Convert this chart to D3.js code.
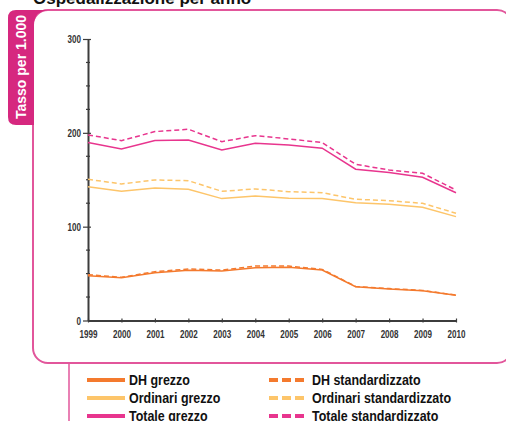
<!DOCTYPE html>
<html>
<head>
<meta charset="utf-8">
<script src="https://cdn.jsdelivr.net/npm/d3@7"></script>
<style>
  html, body { margin: 0; padding: 0; background: #fff; }
  svg { display: block; }
  .narrow { font-family: "Liberation Sans", Arial, sans-serif; font-weight: bold; }
</style>
</head>
<body>
<svg id="chart" width="506" height="421"></svg>
<script>
// Years and rates per 1,000 inhabitants
const years = [1999, 2000, 2001, 2002, 2003, 2004, 2005, 2006, 2007, 2008, 2009, 2010];
const dhGrezzo        = [47.8, 45.6, 51.0, 53.5, 52.8, 56.3, 56.7, 53.8, 36.0, 33.6, 31.8, 26.9];
const dhStd           = [48.8, 46.0, 52.0, 54.9, 53.7, 58.0, 58.0, 54.5, 36.3, 34.0, 32.1, 27.0];
const ordGrezzo       = [142.6, 137.7, 141.3, 139.9, 129.9, 132.7, 130.3, 129.9, 125.6, 123.9, 120.7, 110.7];
const ordStd          = [150.5, 145.5, 149.8, 149.0, 137.7, 140.2, 137.3, 136.2, 129.2, 127.7, 124.9, 114.3];
const totGrezzo       = [189.6, 182.8, 191.7, 192.4, 181.8, 188.9, 187.0, 183.6, 161.2, 157.6, 152.7, 136.2];
const totStd          = [197.8, 191.7, 201.3, 203.8, 190.6, 197.0, 193.5, 189.6, 166.5, 160.4, 156.9, 139.0];
const yMajorTicks = [0, 100, 200, 300];
const yMinorTicks = [25, 50, 75, 125, 150, 175, 225, 250, 275];

const series = [
  { name: "DH grezzo",              values: dhGrezzo,  color: "#f47a2e", dashed: false },
  { name: "Ordinari grezzo",        values: ordGrezzo, color: "#fdc56a", dashed: false },
  { name: "Totale grezzo",          values: totGrezzo, color: "#e8358e", dashed: false },
  { name: "DH standardizzato",      values: dhStd,     color: "#f47a2e", dashed: true },
  { name: "Ordinari standardizzato",values: ordStd,    color: "#fdc56a", dashed: true },
  { name: "Totale standardizzato",  values: totStd,    color: "#e8358e", dashed: true }
];

const svg = d3.select("#chart");
const framePink = "#e2569b";
const tabPink = "#d6287f";

// Squeeze a text horizontally to imitate a condensed face
function condense(sel, factor) {
  sel.each(function () {
    const w = this.getComputedTextLength();
    d3.select(this).attr("textLength", w * factor).attr("lengthAdjust", "spacingAndGlyphs");
  });
}

// Title (partly above the top edge)
svg.append("text")
  .attr("x", 33).attr("y", 4)
  .attr("font-family", "Liberation Sans, Arial, sans-serif")
  .attr("font-weight", "bold").attr("font-size", 17)
  .attr("fill", "#111")
  .text("Ospedalizzazione per anno");

// Rounded frame around the plot
svg.append("rect")
  .attr("x", 33).attr("y", 10)
  .attr("width", 479).attr("height", 353)
  .attr("rx", 15).attr("ry", 15)
  .attr("fill", "none").attr("stroke", framePink).attr("stroke-width", 2);

// Side tab holding the unit label
const tabPath = d3.path();
tabPath.moveTo(33, 10);
tabPath.lineTo(16, 10);
tabPath.quadraticCurveTo(8, 10, 8, 18);
tabPath.lineTo(8, 117);
tabPath.quadraticCurveTo(8, 125, 16, 125);
tabPath.lineTo(34, 125);
tabPath.lineTo(34, 22);
tabPath.quadraticCurveTo(36, 11, 48, 10);
tabPath.closePath();
svg.append("path").attr("d", tabPath.toString()).attr("fill", tabPink);

svg.append("text")
  .attr("transform", "translate(26,67) rotate(-90)")
  .attr("text-anchor", "middle")
  .attr("font-family", "Liberation Sans, Arial, sans-serif")
  .attr("font-weight", "bold").attr("font-size", 14)
  .attr("fill", "#fff")
  .text("Tasso per 1.000");

// Scales
const x = d3.scaleLinear().domain([1999, 2010]).range([88, 456]);
const y = d3.scaleLinear().domain([0, 300]).range([320.5, 39]);

// Axes
const axisColor = "#3c3c3c";
const xAxis = svg.append("g").attr("transform", `translate(0,${y(0)})`)
  .call(d3.axisBottom(x).tickValues(years).tickFormat(d3.format("d")).tickSize(2).tickSizeOuter(0));
xAxis.select(".domain").attr("stroke", axisColor).attr("stroke-width", 2);
xAxis.selectAll(".tick line").attr("stroke", axisColor).attr("stroke-width", 1.2).attr("y1", -2);
xAxis.selectAll(".tick text").attr("class", "narrow").attr("font-size", 11.5).attr("fill", "#333")
  .attr("dy", null).attr("y", 17).call(condense, 0.7);

const yAxis = svg.append("g").attr("transform", `translate(${x(1999)},0)`)
  .call(d3.axisLeft(y).tickValues(yMajorTicks).tickSize(5).tickSizeOuter(0).tickPadding(2));
yAxis.select(".domain").attr("stroke", axisColor).attr("stroke-width", 2);
yAxis.selectAll(".tick line").attr("stroke", axisColor).attr("stroke-width", 1.2).attr("x2", 3).attr("x1", -5);
yAxis.selectAll(".tick text").attr("class", "narrow").attr("font-size", 11.5).attr("fill", "#333").call(condense, 0.7);

// Minor ticks
svg.append("g").selectAll("line").data(yMinorTicks).join("line")
  .attr("x1", x(1999) - 2).attr("x2", x(1999) + 2)
  .attr("y1", d => y(d)).attr("y2", d => y(d))
  .attr("stroke", axisColor).attr("stroke-width", 1.2);

// Lines
const line = d3.line().x((d, i) => x(years[i])).y(d => y(d));
svg.append("g").selectAll("path").data(series).join("path")
  .attr("d", d => line(d.values))
  .attr("fill", "none")
  .attr("stroke", d => d.color)
  .attr("stroke-width", 1.5)
  .attr("stroke-dasharray", d => d.dashed ? "5,3" : null);

// Legend separator
svg.append("line").attr("x1", 69).attr("x2", 69).attr("y1", 363).attr("y2", 421)
  .attr("stroke", framePink).attr("stroke-width", 1.5);

// Legend
const rowsY = [380, 398, 416];
const legend = svg.append("g").selectAll("g").data(series).join("g")
  .attr("transform", (d, i) => `translate(${d.dashed ? 269 : 87},${rowsY[i % 3]})`);
legend.append("line")
  .attr("x1", 0).attr("x2", d => d.dashed ? 39 : 38)
  .attr("stroke", d => d.color).attr("stroke-width", 4)
  .attr("stroke-dasharray", d => d.dashed ? "9,4" : null);
legend.append("text")
  .attr("class", "narrow")
  .attr("x", d => d.dashed ? 43 : 42).attr("y", 4.5)
  .attr("font-size", 15).attr("fill", "#111")
  .text(d => d.name)
  .call(condense, 0.83);
</script>
</body>
</html>
